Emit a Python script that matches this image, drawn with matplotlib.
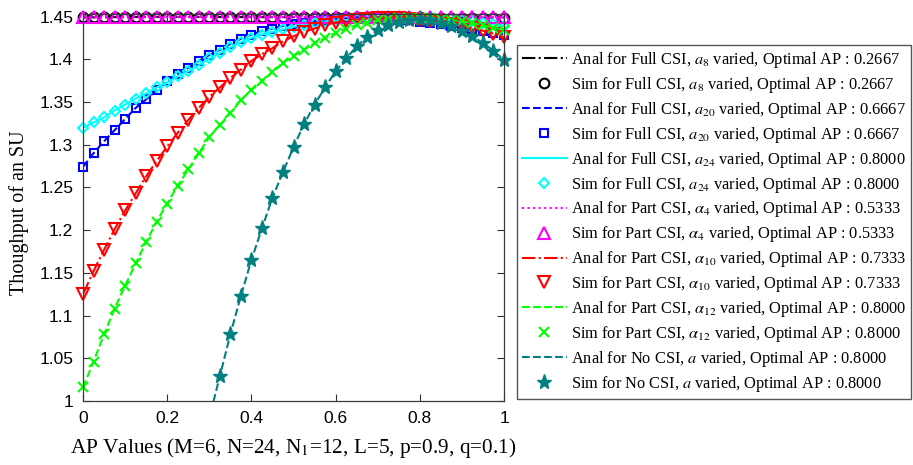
import matplotlib

matplotlib.use("Agg")

import matplotlib.pyplot as plt
import numpy as np


# Access probability grid, 0 to 1 in steps of 0.025
AP_VALUES = np.arange(41) * 0.025

# Throughput of one SU for each scheme (analytical and simulated agree to plot precision)
FULL_A8 = [
    1.4490, 1.4491, 1.4492, 1.4493, 1.4494, 1.4494, 1.4495, 1.4495, 1.4495, 1.4495,
    1.4495, 1.4495, 1.4495, 1.4494, 1.4494, 1.4494, 1.4494, 1.4493, 1.4493, 1.4493,
    1.4493, 1.4492, 1.4492, 1.4492, 1.4492, 1.4491, 1.4491, 1.4491, 1.4491, 1.4490,
    1.4490, 1.4490, 1.4490, 1.4489, 1.4489, 1.4489, 1.4489, 1.4488, 1.4488, 1.4488,
    1.4488,
]
FULL_A20 = [
    1.274, 1.290, 1.304, 1.317, 1.330, 1.343, 1.353, 1.364, 1.374, 1.383,
    1.390, 1.398, 1.405, 1.411, 1.418, 1.424, 1.429, 1.433, 1.436, 1.439,
    1.441, 1.443, 1.445, 1.4465, 1.4475, 1.448, 1.4485, 1.4485, 1.448, 1.4475,
    1.4465, 1.4455, 1.444, 1.4425, 1.441, 1.439, 1.437, 1.435, 1.433, 1.431,
    1.429,
]
FULL_A24 = [
    1.320, 1.326, 1.332, 1.340, 1.347, 1.354, 1.360, 1.367, 1.373, 1.380,
    1.386, 1.393, 1.401, 1.407, 1.414, 1.420, 1.425, 1.429, 1.432, 1.435,
    1.438, 1.440, 1.442, 1.4435, 1.445, 1.446, 1.4467, 1.4473, 1.4478, 1.448,
    1.4482, 1.4483, 1.4484, 1.4482, 1.448, 1.4472, 1.446, 1.445, 1.443, 1.441,
    1.439,
]
PART_ALPHA4 = [
    1.4490, 1.4490, 1.4491, 1.4491, 1.4492, 1.4492, 1.4492, 1.4493, 1.4493, 1.4493,
    1.4494, 1.4494, 1.4494, 1.4494, 1.4495, 1.4495, 1.4495, 1.4495, 1.4495, 1.4495,
    1.4495, 1.4495, 1.4495, 1.4495, 1.4495, 1.4494, 1.4494, 1.4494, 1.4494, 1.4493,
    1.4493, 1.4493, 1.4492, 1.4492, 1.4492, 1.4491, 1.4491, 1.4491, 1.4490, 1.4490,
    1.4490,
]
PART_ALPHA10 = [
    1.125, 1.152, 1.177, 1.201, 1.223, 1.243, 1.263, 1.281, 1.298, 1.314,
    1.329, 1.343, 1.356, 1.367, 1.378, 1.388, 1.398, 1.406, 1.413, 1.421,
    1.427, 1.432, 1.436, 1.440, 1.443, 1.445, 1.4465, 1.4475, 1.448, 1.4483,
    1.448, 1.4473, 1.4463, 1.445, 1.4435, 1.4415, 1.4393, 1.4365, 1.4335, 1.430,
    1.426,
]
PART_ALPHA12 = [
    1.016, 1.046, 1.078, 1.108, 1.135, 1.161, 1.186, 1.210, 1.231, 1.252,
    1.271, 1.290, 1.309, 1.323, 1.337, 1.352, 1.364, 1.374, 1.385, 1.396,
    1.404, 1.411, 1.419, 1.425, 1.431, 1.436, 1.440, 1.443, 1.4455, 1.447,
    1.448, 1.4485, 1.4487, 1.4483, 1.4475, 1.446, 1.4445, 1.4425, 1.440, 1.437,
    1.434,
]
NO_CSI = [
    0.092, 0.188, 0.280, 0.368, 0.452, 0.532, 0.608, 0.680, 0.748, 0.812,
    0.872, 0.928, 0.980, 1.029, 1.078, 1.123, 1.165, 1.202, 1.238, 1.268,
    1.297, 1.324, 1.347, 1.367, 1.386, 1.401, 1.415, 1.426, 1.434, 1.440,
    1.444, 1.446, 1.447, 1.446, 1.443, 1.439, 1.433, 1.427, 1.419, 1.410,
    1.399,
]

X_TICKS = [0, 0.2, 0.4, 0.6, 0.8, 1.0]
X_TICK_LABELS = ["0", "0.2", "0.4", "0.6", "0.8", "1"]
Y_TICKS = [1.0, 1.05, 1.1, 1.15, 1.2, 1.25, 1.3, 1.35, 1.4, 1.45]
Y_TICK_LABELS = ["1", "1.05", "1.1", "1.15", "1.2", "1.25", "1.3", "1.35", "1.4", "1.45"]

# (values, colour, line style, marker, csi text, parameter, optimal AP)
SERIES = [
    (FULL_A8, "#000000", "-.", "o", "Full CSI", r"$a_{8}$", "0.2667"),
    (FULL_A20, "#0000FF", "--", "s", "Full CSI", r"$a_{20}$", "0.6667"),
    (FULL_A24, "#00FFFF", "-", "D", "Full CSI", r"$a_{24}$", "0.8000"),
    (PART_ALPHA4, "#FF00FF", ":", "^", "Part CSI", r"$\alpha_{4}$", "0.5333"),
    (PART_ALPHA10, "#FF0000", "-.", "v", "Part CSI", r"$\alpha_{10}$", "0.7333"),
    (PART_ALPHA12, "#00FF00", "--", "x", "Part CSI", r"$\alpha_{12}$", "0.8000"),
    (NO_CSI, "#008080", "--", "*", "No CSI", r"$a$", "0.8000"),
]
MARKER_SIZE = {"o": 7, "s": 5.8, "D": 5.5, "^": 8.5, "v": 8.5, "x": 7.5, "*": 11}

plt.rcParams["font.family"] = "Liberation Serif"
plt.rcParams["mathtext.fontset"] = "stix"


def make_figure(out_path):
    fig = plt.figure(figsize=(9.13, 4.65), dpi=100)
    ax = fig.add_axes([83 / 913, 64 / 465, 421 / 913, 387 / 465])

    handles, labels = [], []
    for values, color, style, marker, csi, param, opt in SERIES:
        values = np.asarray(values)
        (anal,) = ax.plot(AP_VALUES, values, color=color, linestyle=style, lw=1.5)
        keep = values >= 1.0
        (sim,) = ax.plot(
            AP_VALUES[keep],
            values[keep],
            linestyle="none",
            marker=marker,
            markersize=MARKER_SIZE[marker],
            markerfacecolor=color if marker == "*" else "none",
            markeredgecolor=color,
            markeredgewidth=1.5 if marker != "*" else 1.0,
            clip_on=False,
        )
        handles += [anal, sim]
        labels += [
            f"Anal for {csi}, {param} varied, Optimal AP : {opt}",
            f"Sim for {csi}, {param} varied, Optimal AP : {opt}",
        ]

    ax.set_xlim(0, 1)
    ax.set_ylim(1.0, 1.453)
    ax.set_xticks(X_TICKS)
    ax.set_xticklabels(X_TICK_LABELS)
    ax.set_yticks(Y_TICKS)
    ax.set_yticklabels(Y_TICK_LABELS)
    ax.tick_params(
        direction="in", length=5, width=0.8, top=True, right=True,
        labelsize=12.5, labelfontfamily="Liberation Sans", pad=7, colors="#333333",
    )
    ax.tick_params(labelcolor="black")
    for spine in ax.spines.values():
        spine.set_color("#3a3a3a")
        spine.set_linewidth(0.9)

    ax.set_xlabel(r"AP Values (M=6, N=24, N$_{\mathrm{1}}$=12, L=5, p=0.9, q=0.1)", fontsize=15.3)
    ax.xaxis.set_label_coords(0.5, -0.09)
    ax.set_ylabel("Thoughput of an SU", fontsize=14.5)
    ax.yaxis.set_label_coords(-0.128, 0.486)

    leg = ax.legend(
        handles,
        labels,
        loc="upper left",
        bbox_to_anchor=(517 / 913, 420 / 465),
        bbox_transform=fig.transFigure,
        fontsize=11.8,
        handlelength=2.75,
        handletextpad=0.25,
        labelspacing=0.3,
        borderpad=0.3,
        borderaxespad=0,
        fancybox=False,
        framealpha=1,
        numpoints=1,
    )
    leg.get_frame().set_edgecolor("#555555")
    leg.get_frame().set_linewidth(1.0)

    fig.savefig(out_path, dpi=100)
    plt.close(fig)


def main():
    make_figure("out.png")


if __name__ == "__main__":
    main()
